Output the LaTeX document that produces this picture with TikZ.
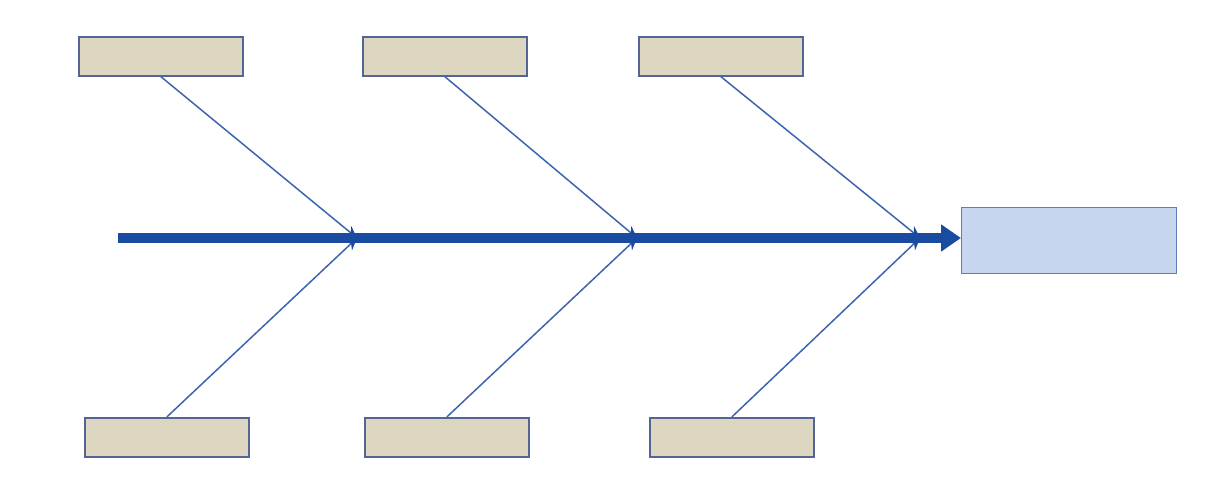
\documentclass[tikz,border=0pt]{standalone}
\usetikzlibrary{arrows.meta}
\definecolor{tanfill}{RGB}{221,214,192}
\definecolor{tanborder}{RGB}{85,100,150}
\definecolor{headfill}{RGB}{197,214,238}
\definecolor{headborder}{RGB}{95,125,180}
\definecolor{bonecol}{RGB}{60,100,175}
\definecolor{spinecol}{RGB}{25,75,160}
\tikzset{
  causebox/.style={draw=tanborder, fill=tanfill, line width=1.6pt, minimum width=164pt, minimum height=39pt, inner sep=0pt, anchor=north west},
  headbox/.style={draw=headborder, fill=headfill, line width=1.4pt, minimum width=215pt, minimum height=66pt, inner sep=0pt, anchor=north west},
  bone/.style={draw=bonecol, line width=1.5pt, -{Stealth[length=12pt,width=11pt,color=spinecol]}},
  spine/.style={draw=spinecol, line width=9.5pt, -{Triangle[length=20pt,width=26pt]}}
}
\begin{document}
\begin{tikzpicture}[x=1pt,y=-1pt]
\useasboundingbox (0,0) rectangle (1215,478);
% top boxes
\node[causebox] (t1) at (78,36) {};
\node[causebox] (t2) at (362,36) {};
\node[causebox] (t3) at (638,36) {};
% bottom boxes
\node[causebox] (b1) at (84,417) {};
\node[causebox] (b2) at (364,417) {};
\node[causebox] (b3) at (649,417) {};
% head
\node[headbox] (head) at (961,207) {};
% spine
\coordinate (s) at (118,238);
\coordinate (j1) at (357,238);
\coordinate (j2) at (637,238);
\coordinate (j3) at (920,238);
\draw[spine] (s) -- (head.west |- s);
% bones
\draw[bone] (t1.south) -- (j1);
\draw[bone] (b1.north) -- (j1);
\draw[bone] (t2.south) -- (j2);
\draw[bone] (b2.north) -- (j2);
\draw[bone] (t3.south) -- (j3);
\draw[bone] (b3.north) -- (j3);
\end{tikzpicture}
\end{document}
